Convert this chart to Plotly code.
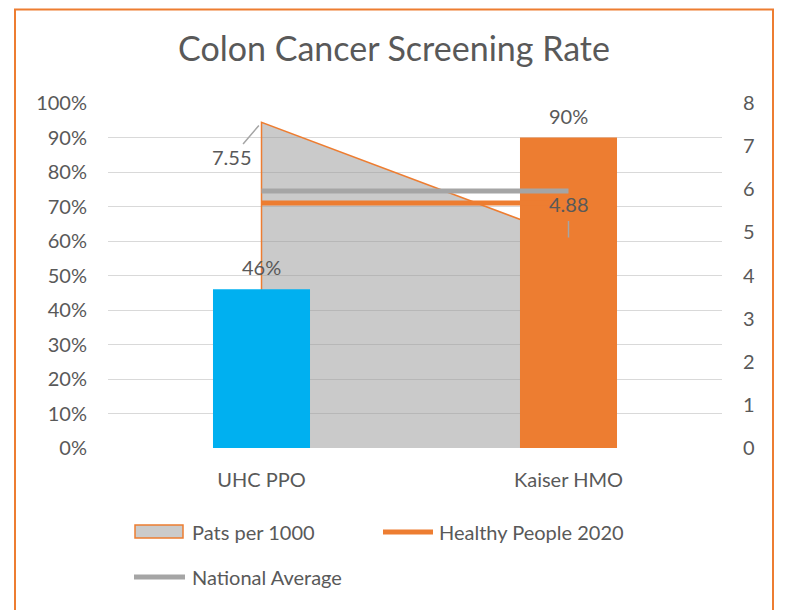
"""Colon cancer screening rate: bars, area on secondary axis and target lines."""

import plotly.graph_objects as go

categories = ["UHC PPO", "Kaiser HMO"]
screening_rate = [0.46, 0.90]
pats_per_1000 = [7.55, 4.88]
healthy_people_2020 = [0.71, 0.71]
national_average = [0.745, 0.745]

left_ticks = [i / 10 for i in range(11)]
right_ticks = list(range(9))

# the page puts the figure 8px in from the top-left corner
OFF = 8
W, H = 790 - OFF, 610 - OFF
L, R, T, B = 108 - OFF, 68, 103 - OFF, 162
FONT = "Lato"
TEXT = "#595959"
ORANGE = "#ED7D31"
GREY = "#A5A5A5"
CYAN = "#00B0F0"
SIZE = 20


def px(x):
    return (x - OFF - L) / (W - L - R)


def py(y):
    return (H - B - (y - OFF)) / (H - T - B)


fig = go.Figure()

# area sits on the bottom subplot so the bars cover it
fig.add_trace(
    go.Scatter(
        x=[categories[0]] + categories,
        y=[0] + pats_per_1000,
        mode="lines",
        fill="tozeroy",
        fillcolor="rgba(150,150,150,0.5)",
        line=dict(color=ORANGE, width=1.5),
        name="Pats per 1000",
        yaxis="y",
        hoverinfo="skip",
    )
)
fig.add_trace(
    go.Bar(
        x=categories,
        y=screening_rate,
        marker=dict(color=[CYAN, ORANGE], line=dict(width=0)),
        width=0.316,
        name="Screening rate",
        yaxis="y2",
    )
)
fig.add_trace(
    go.Scatter(
        x=categories,
        y=national_average,
        mode="lines",
        line=dict(color=GREY, width=5),
        name="National Average",
        yaxis="y3",
    )
)
fig.add_trace(
    go.Scatter(
        x=categories,
        y=healthy_people_2020,
        mode="lines",
        line=dict(color=ORANGE, width=5),
        name="Healthy People 2020",
        yaxis="y3",
    )
)

label_font = dict(size=SIZE, color=TEXT, family=FONT)
annotations = []
for cat, val in zip(categories, screening_rate):
    annotations.append(
        dict(x=cat, y=val, yref="y2", text=f"{val:.0%}", showarrow=False,
             yshift=22, font=label_font)
    )
annotations.append(
    dict(x=categories[0], y=pats_per_1000[0], yref="y", text=f"{pats_per_1000[0]:.2f}",
         showarrow=True, arrowhead=0, arrowwidth=1.5, arrowcolor=GREY,
         ax=-30, ay=35, standoff=4, font=label_font)
)
annotations.append(
    dict(x=categories[1], y=pats_per_1000[1], yref="y", text=f"{pats_per_1000[1]:.2f}",
         showarrow=True, arrowhead=0, arrowwidth=1.5, arrowcolor=GREY,
         ax=0, ay=-34, borderpad=5, font=label_font)
)

# hand-drawn legend, Excel style
for text, x, y in [("Pats per 1000", 190, 532), ("Healthy People 2020", 437, 532),
                   ("National Average", 190, 577)]:
    annotations.append(
        dict(x=px(x), y=py(y), xref="paper", yref="paper", text=text, showarrow=False,
             xanchor="left", yanchor="middle", font=label_font)
    )

shapes = [
    dict(type="rect", xref="paper", yref="paper", x0=px(135), x1=px(183), y0=py(538), y1=py(525),
         fillcolor="#CBCBCB", line=dict(color=ORANGE, width=1.5)),
    dict(type="line", xref="paper", yref="paper", x0=px(383), x1=px(433), y0=py(532), y1=py(532),
         line=dict(color=ORANGE, width=5)),
    dict(type="line", xref="paper", yref="paper", x0=px(134), x1=px(185), y0=py(577), y1=py(577),
         line=dict(color=GREY, width=5)),
    # chart border (top edge kept just inside the figure)
    dict(type="rect", xref="paper", yref="paper", x0=px(15), x1=px(773), y0=py(640), y1=py(9.5),
         line=dict(color=ORANGE, width=2), layer="above"),
]

fig.update_layout(
    width=W,
    height=H,
    margin=dict(l=L, r=R, t=T, b=B),
    paper_bgcolor="white",
    plot_bgcolor="white",
    showlegend=False,
    title=dict(text="Colon Cancer Screening Rate", x=(394 - OFF) / W, xanchor="center",
               y=1 - (49 - OFF) / H, yanchor="middle", yref="container",
               font=dict(size=34, color=TEXT, family=FONT)),
    font=dict(family=FONT, color=TEXT),
    xaxis=dict(type="category", range=[-0.5, 1.5], showgrid=False, showline=False,
               ticks="", tickfont=label_font, ticklabelstandoff=18),
    yaxis=dict(range=[0, 8], tickvals=right_ticks, side="right", showgrid=False,
               zeroline=False, showline=False, tickfont=label_font,
               ticklabelstandoff=20),
    yaxis2=dict(range=[0, 1], tickvals=left_ticks, tickformat=".0%", overlaying="y",
                side="left", showgrid=True, gridcolor="#D9D9D9", gridwidth=1,
                zeroline=False, showline=False, tickfont=label_font,
                ticklabelstandoff=20),
    yaxis3=dict(range=[0, 1], overlaying="y", visible=False),
    annotations=annotations,
    shapes=shapes,
)

fig.write_html("out.html")
